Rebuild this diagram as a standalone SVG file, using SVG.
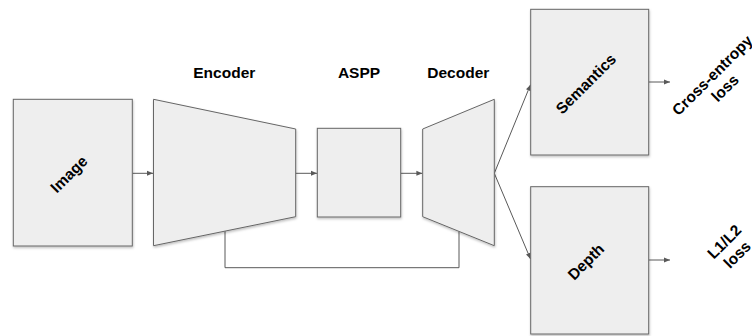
<svg xmlns="http://www.w3.org/2000/svg" width="752" height="336" viewBox="0 0 752 336">
<style>
.shape{fill:#eeeeee;stroke:#666666;stroke-width:1;filter:url(#sh)}
.conn{fill:none;stroke:#595959;stroke-width:1}
.lbl{font-family:"Liberation Sans",Arial,sans-serif;font-weight:bold;font-size:15.5px;fill:#000000;text-anchor:middle}
</style>
<defs>
<filter id="sh" x="-10%" y="-10%" width="120%" height="120%">
<feDropShadow dx="0.5" dy="1.5" stdDeviation="1" flood-color="#000000" flood-opacity="0.25"/>
</filter>
<marker id="arr" viewBox="0 0 6 6" refX="6" refY="3" markerWidth="6" markerHeight="6" markerUnits="userSpaceOnUse" orient="auto">
<path d="M0,0.5 L6,3 L0,5.5 Z" fill="#595959"/>
</marker>
</defs>
<rect width="752" height="336" fill="#ffffff"/>
<g id="connectors">
<line class="conn" x1="132.3" y1="173.3" x2="153" y2="173.3" marker-end="url(#arr)"/>
<line class="conn" x1="295.7" y1="173.3" x2="317" y2="173.3" marker-end="url(#arr)"/>
<line class="conn" x1="400.7" y1="173.3" x2="422.4" y2="173.3" marker-end="url(#arr)"/>
<line class="conn" x1="494.3" y1="173.3" x2="530.5" y2="84.7" marker-end="url(#arr)"/>
<line class="conn" x1="494.3" y1="173.3" x2="530.5" y2="259" marker-end="url(#arr)"/>
<line class="conn" x1="648.7" y1="82" x2="670" y2="82" marker-end="url(#arr)"/>
<line class="conn" x1="648.7" y1="260" x2="670" y2="260" marker-end="url(#arr)"/>
<polyline class="conn" points="225,231.1 225,267.7 459,267.7 459,231.4"/>
</g>
<g id="image">
<rect class="shape" x="13.3" y="99.3" width="119" height="146.7"/>
<text class="lbl" transform="translate(72.7,178) rotate(-45)">Image</text>
</g>
<g id="encoder">
<polygon class="shape" points="153.5,99.3 295.7,129 295.7,216.7 153.5,245.7"/>
<text class="lbl" x="224.3" y="78">Encoder</text>
</g>
<g id="aspp">
<rect class="shape" x="317.3" y="128.3" width="83.4" height="88.7"/>
<text class="lbl" x="359" y="78">ASPP</text>
</g>
<g id="decoder">
<polygon class="shape" points="422.7,129 494.3,99.3 494.3,245.7 422.7,216.7"/>
<text class="lbl" x="458.3" y="78">Decoder</text>
</g>
<g id="semantics">
<rect class="shape" x="530.7" y="9.3" width="118" height="145.7"/>
<text class="lbl" transform="translate(589.7,87.5) rotate(-45)">Semantics</text>
</g>
<g id="depth">
<rect class="shape" x="530.7" y="186.7" width="118" height="147.3"/>
<text class="lbl" transform="translate(589.7,265.5) rotate(-45)">Depth</text>
</g>
<g id="ce-loss">
<text class="lbl" transform="translate(718.5,81.5) rotate(-45)"><tspan x="0" dy="-3.5">Cross-entropy</tspan><tspan x="0" dy="18">loss</tspan></text>
</g>
<g id="l-loss">
<text class="lbl" transform="translate(730.6,248) rotate(-45)"><tspan x="0" dy="-3.5">L1/L2</tspan><tspan x="0" dy="18">loss</tspan></text>
</g>
</svg>
